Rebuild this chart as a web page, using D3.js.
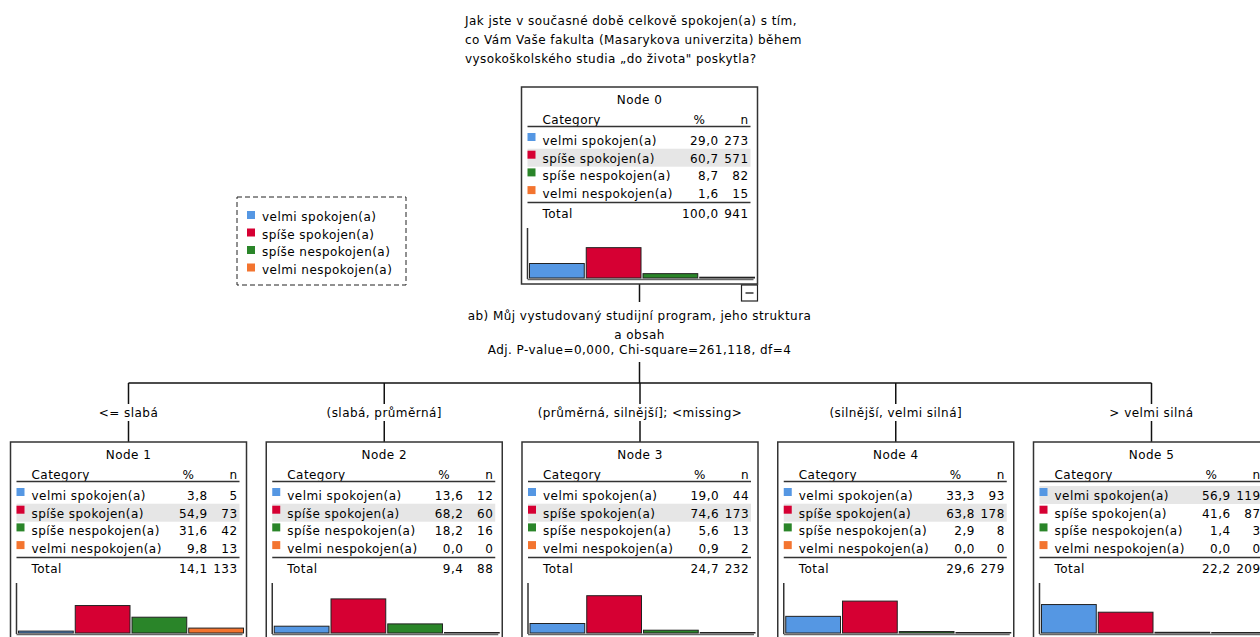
<!DOCTYPE html>
<html>
<head>
<meta charset="utf-8">
<script src="https://cdnjs.cloudflare.com/ajax/libs/d3/7.8.5/d3.min.js"></script>
<style>
body { margin: 0; background: #fff; }
svg text { font-family: "DejaVu Sans", sans-serif; font-size: 12px; letter-spacing: 0.45px; fill: #000; }
</style>
</head>
<body>
<svg class="tree" width="1260" height="637"></svg>
<script>
// categories of the target variable
var categories = ["velmi spokojen(a)", "spíše spokojen(a)", "spíše nespokojen(a)", "velmi nespokojen(a)"];
var colors = ["#5597e3", "#d60033", "#2a8529", "#f3742f"];

var titleLines = ["Jak jste v současné době celkově spokojen(a) s tím,",
                  "co Vám Vaše fakulta (Masarykova univerzita) během",
                  "vysokoškolského studia „do života\" poskytla?"];

var splitLines = ["ab) Můj vystudovaný studijní program, jeho struktura", "a obsah"];
var splitStats = "Adj. P-value=0,000, Chi-square=261,118, df=4";

var nodeNames = ["Node 0", "Node 1", "Node 2", "Node 3", "Node 4", "Node 5"];
var nodePct = [
  [29.0, 60.7, 8.7, 1.6],
  [3.8, 54.9, 31.6, 9.8],
  [13.6, 68.2, 18.2, 0.0],
  [19.0, 74.6, 5.6, 0.9],
  [33.3, 63.8, 2.9, 0.0],
  [56.9, 41.6, 1.4, 0.0]
];
var nodeN = [
  [273, 571, 82, 15],
  [5, 73, 42, 13],
  [12, 60, 16, 0],
  [44, 173, 13, 2],
  [93, 178, 8, 0],
  [119, 87, 3, 0]
];
var totalPct = [100.0, 14.1, 9.4, 24.7, 29.6, 22.2];
var totalN = [941, 133, 88, 232, 279, 209];
var childLabels = ["<= slabá", "(slabá, průměrná]", "(průměrná, silnější];  <missing>", "(silnější, velmi silná]", "> velmi silná"];

var svg = d3.select(".tree");
var fmt = d3.formatLocale({decimal: ",", thousands: " ", grouping: [3], currency: ["", ""]}).format(".1f");

var boxW = 236, boxH = 197;
var rootX = 639.5, rootTop = 87;
var childTop = 442, hLineY = 383;

// child node centres
var childX = d3.scalePoint()
    .domain(d3.range(1, 6))
    .range([128.5, 1151.5]);

// bar height scale (percent -> px)
var barY = d3.scaleLinear().domain([0, 100]).range([0, 50]);

// title
svg.append("g").selectAll("text")
    .data(titleLines)
    .enter().append("text")
    .attr("x", 465)
    .attr("y", function(d, i) { return 25 + i * 19; })
    .text(function(d) { return d; });

// legend
var legend = svg.append("g").attr("transform", "translate(237,197)");
legend.append("rect")
    .attr("width", 169).attr("height", 88)
    .attr("fill", "none").attr("stroke", "#222")
    .attr("stroke-dasharray", "5,3");
categories.forEach(function(c, i) {
  legend.append("rect")
      .attr("x", 10).attr("y", 14 + i * 17.5)
      .attr("width", 8).attr("height", 8)
      .attr("fill", colors[i]);
  legend.append("text")
      .attr("x", 25).attr("y", 24 + i * 17.5)
      .text(c);
});

function drawNode(k, cx, top) {
  var L = cx - boxW / 2;
  var g = svg.append("g").attr("transform", "translate(" + L + "," + top + ")");
  var pct = nodePct[k];
  var maxI = d3.maxIndex(pct);

  g.append("rect")
      .attr("width", boxW).attr("height", boxH)
      .attr("fill", "#fff").attr("stroke", "#333").attr("stroke-width", 1.5);

  g.append("text")
      .attr("x", boxW / 2).attr("y", 17)
      .attr("text-anchor", "middle")
      .text(nodeNames[k]);

  g.append("text").attr("x", 21).attr("y", 37).text("Category");
  g.append("text").attr("x", 178).attr("y", 37).attr("text-anchor", "middle").text("%");
  g.append("text").attr("x", 227).attr("y", 37).attr("text-anchor", "end").text("n");
  g.append("line")
      .attr("x1", 6).attr("x2", 229).attr("y1", 39.5).attr("y2", 39.5)
      .attr("stroke", "#333").attr("stroke-width", 1.5);

  // highlighted (modal) row
  g.append("rect")
      .attr("x", 6).attr("y", 58 + maxI * 17.7 - 14)
      .attr("width", 223).attr("height", 18)
      .attr("fill", "#e6e6e6");

  var rows = g.selectAll("g.row")
      .data(categories)
      .enter().append("g")
      .attr("class", "row")
      .attr("transform", function(d, i) { return "translate(0," + (58 + i * 17.7) + ")"; });
  rows.append("rect")
      .attr("x", 6).attr("y", -12)
      .attr("width", 8).attr("height", 8)
      .attr("fill", function(d, i) { return colors[i]; });
  rows.append("text").attr("x", 21).text(function(d) { return d; });
  rows.append("text").attr("x", 197).attr("text-anchor", "end")
      .text(function(d, i) { return fmt(pct[i]); });
  rows.append("text").attr("x", 227).attr("text-anchor", "end")
      .text(function(d, i) { return nodeN[k][i]; });

  g.append("line")
      .attr("x1", 6).attr("x2", 229).attr("y1", 115.5).attr("y2", 115.5)
      .attr("stroke", "#333").attr("stroke-width", 1.5);
  g.append("text").attr("x", 21).attr("y", 131).text("Total");
  g.append("text").attr("x", 197).attr("y", 131).attr("text-anchor", "end").text(fmt(totalPct[k]));
  g.append("text").attr("x", 227).attr("y", 131).attr("text-anchor", "end").text(totalN[k]);

  // little bar chart
  var bx = d3.scaleBand().domain(categories).range([8, 233]).paddingInner(0.035);
  g.append("line")
      .attr("x1", 6).attr("x2", 6).attr("y1", 141).attr("y2", 192)
      .attr("stroke", "#333").attr("stroke-width", 1.5);
  g.append("line")
      .attr("x1", 6).attr("x2", 232).attr("y1", 192.5).attr("y2", 192.5)
      .attr("stroke", "#666").attr("stroke-width", 1.5);
  g.selectAll("rect.bar")
      .data(categories)
      .enter().append("rect")
      .attr("class", "bar")
      .attr("x", function(d) { return bx(d); })
      .attr("width", bx.bandwidth())
      .attr("y", function(d, i) { return 191 - Math.max(barY(pct[i]), 0.5); })
      .attr("height", function(d, i) { return Math.max(barY(pct[i]), 0.5); })
      .attr("fill", function(d, i) { return colors[i]; })
      .attr("stroke", "#222").attr("stroke-width", 1);
  return g;
}

// connectors
var lines = svg.append("g").attr("stroke", "#111").attr("stroke-width", 1.5);
lines.append("line").attr("x1", rootX).attr("x2", rootX).attr("y1", rootTop + boxH).attr("y2", 302);
lines.append("line").attr("x1", rootX).attr("x2", rootX).attr("y1", 362).attr("y2", hLineY);
lines.append("line")
    .attr("x1", childX(1)).attr("x2", childX(5))
    .attr("y1", hLineY).attr("y2", hLineY);
d3.range(1, 6).forEach(function(k) {
  lines.append("line").attr("x1", childX(k)).attr("x2", childX(k)).attr("y1", hLineY).attr("y2", 404);
  lines.append("line").attr("x1", childX(k)).attr("x2", childX(k)).attr("y1", 421).attr("y2", childTop);
});

// split description
svg.append("g").selectAll("text")
    .data(splitLines.concat([splitStats]))
    .enter().append("text")
    .attr("x", rootX)
    .attr("y", function(d, i) { return [320, 339, 354][i]; })
    .attr("text-anchor", "middle")
    .text(function(d) { return d; });

svg.append("g").selectAll("text")
    .data(childLabels)
    .enter().append("text")
    .attr("x", function(d, i) { return childX(i + 1); })
    .attr("y", 417)
    .attr("text-anchor", "middle")
    .text(function(d) { return d; });

drawNode(0, rootX, rootTop);
d3.range(1, 6).forEach(function(k) { drawNode(k, childX(k), childTop); });

// collapse toggle under root
var tog = svg.append("g").attr("transform", "translate(" + (rootX + boxW / 2 - 16) + "," + (rootTop + boxH + 1) + ")");
tog.append("rect").attr("width", 16).attr("height", 16)
    .attr("fill", "#fff").attr("stroke", "#222").attr("stroke-width", 1.2);
tog.append("line").attr("x1", 4).attr("x2", 12).attr("y1", 8).attr("y2", 8)
    .attr("stroke", "#000").attr("stroke-width", 1.2);
</script>
</body>
</html>
